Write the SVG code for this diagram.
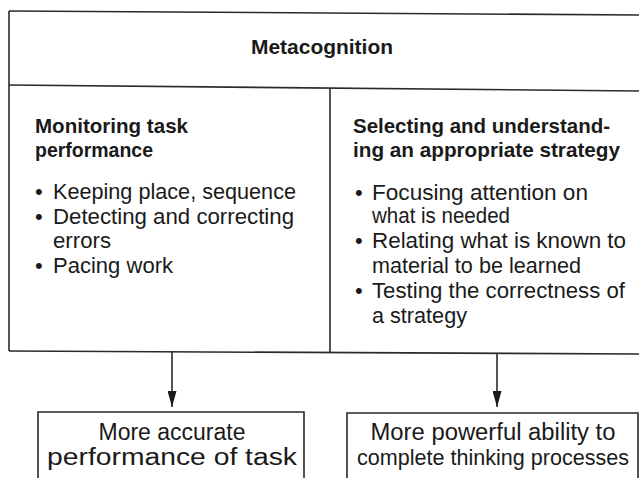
<svg xmlns="http://www.w3.org/2000/svg" width="639" height="478" viewBox="0 0 639 478">
<style>
.ln{stroke:#2a2a2a;stroke-width:1.6;fill:none}
.t{font-family:"Liberation Sans",Arial,sans-serif;font-size:22px;fill:#1a1a1a}
.b{font-weight:bold;font-size:21px}
.c{text-anchor:middle}
.bt{font-size:23px}
</style>
<defs>
<marker id="ah" markerWidth="16" markerHeight="9" refX="16" refY="4.5" orient="auto" markerUnits="userSpaceOnUse" viewBox="0 0 16 9">
<path d="M0,0 L16,4.5 L0,9 Z" fill="#1a1a1a"/>
</marker>
</defs>
<rect width="639" height="478" fill="#fff"/>
<g id="metacognition">
<path class="ln" d="M9,11 L639,15"/>
<path class="ln" d="M9,11 L9,351"/>
<path class="ln" d="M9,85 L639,91"/>
<path class="ln" d="M9,351 L639,354"/>
<text class="t b c" x="322" y="54" font-size="24" textLength="142" lengthAdjust="spacingAndGlyphs">Metacognition</text>
</g>
<g id="monitoring">
<path class="ln" d="M330,88 L330,352"/>
<text class="t b" x="35" y="133" textLength="153" lengthAdjust="spacingAndGlyphs">Monitoring task</text>
<text class="t b" x="35" y="157" textLength="118" lengthAdjust="spacingAndGlyphs">performance</text>
<text class="t" x="35" y="199">•</text>
<text class="t" x="53" y="199" textLength="243" lengthAdjust="spacingAndGlyphs">Keeping place, sequence</text>
<text class="t" x="35" y="223.5">•</text>
<text class="t" x="53" y="223.5" textLength="241" lengthAdjust="spacingAndGlyphs">Detecting and correcting</text>
<text class="t" x="53" y="248" textLength="58" lengthAdjust="spacingAndGlyphs">errors</text>
<text class="t" x="35" y="272.5">•</text>
<text class="t" x="53" y="272.5" textLength="120" lengthAdjust="spacingAndGlyphs">Pacing work</text>
</g>
<g id="selecting">
<text class="t b" x="353" y="133" textLength="257" lengthAdjust="spacingAndGlyphs">Selecting and understand-</text>
<text class="t b" x="353" y="157" textLength="267" lengthAdjust="spacingAndGlyphs">ing an appropriate strategy</text>
<text class="t" x="355" y="200">•</text>
<text class="t" x="372" y="200" textLength="216" lengthAdjust="spacingAndGlyphs">Focusing attention on</text>
<text class="t" x="372" y="223" textLength="138" lengthAdjust="spacingAndGlyphs">what is needed</text>
<text class="t" x="355" y="248">•</text>
<text class="t" x="372" y="248" textLength="254" lengthAdjust="spacingAndGlyphs">Relating what is known to</text>
<text class="t" x="372" y="273" textLength="209" lengthAdjust="spacingAndGlyphs">material to be learned</text>
<text class="t" x="355" y="298">•</text>
<text class="t" x="372" y="298" textLength="253" lengthAdjust="spacingAndGlyphs">Testing the correctness of</text>
<text class="t" x="372" y="323" textLength="95" lengthAdjust="spacingAndGlyphs">a strategy</text>
</g>
<g id="connectors">
<line class="ln" x1="172" y1="351" x2="172" y2="407" marker-end="url(#ah)"/>
<line class="ln" x1="497" y1="353" x2="497" y2="407" marker-end="url(#ah)"/>
</g>
<g id="accurate">
<path class="ln" d="M38,480 L38,412 L304,412 L304,480"/>
<text class="t c bt" x="172" y="440" textLength="147" lengthAdjust="spacingAndGlyphs">More accurate</text>
<text class="t c bt" x="172" y="465" textLength="250" lengthAdjust="spacingAndGlyphs">performance of task</text>
</g>
<g id="powerful">
<path class="ln" d="M347,480 L347,413 L638,413 L638,480"/>
<text class="t c bt" x="493" y="440" textLength="245" lengthAdjust="spacingAndGlyphs">More powerful ability to</text>
<text class="t c" x="493" y="465" textLength="272" lengthAdjust="spacingAndGlyphs">complete thinking processes</text>
</g>
</svg>
